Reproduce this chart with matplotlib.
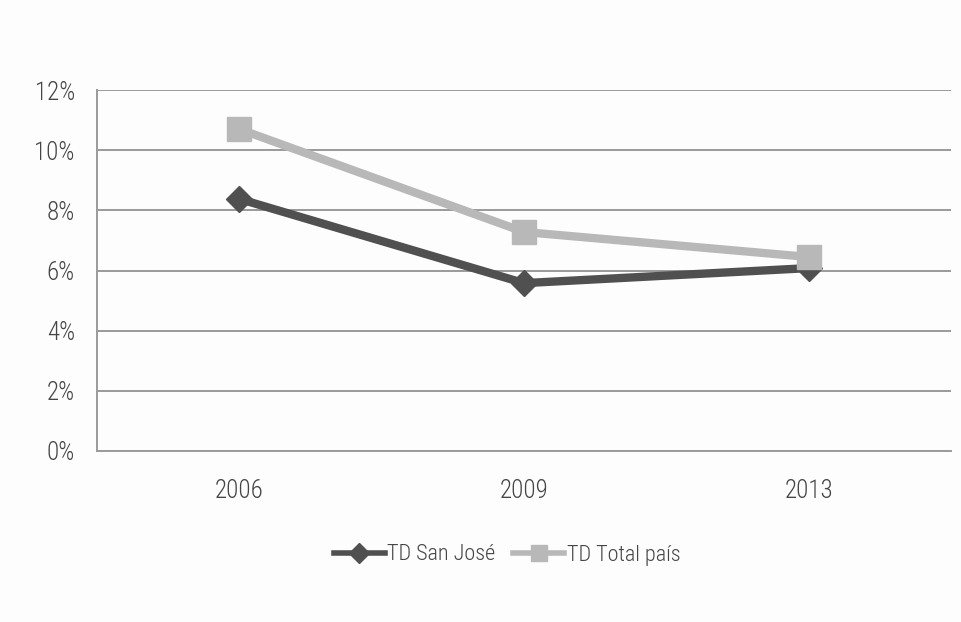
import matplotlib
matplotlib.use("Agg")
import matplotlib.pyplot as plt
from matplotlib import font_manager
from matplotlib.ticker import FuncFormatter

years = ["2006", "2009", "2013"]
td_san_jose = [8.38, 5.58, 6.08]
td_total_pais = [10.7, 7.28, 6.45]
series_labels = ["TD San José", "TD Total país"]
y_ticks = [0, 2, 4, 6, 8, 10, 12]

names = {f.name for f in font_manager.fontManager.ttflist}
cands = ["Roboto Condensed", "Open Sans Condensed", "Liberation Sans Narrow",
         "Noto Sans Condensed", "DejaVu Sans Condensed", "Arial Narrow"]
fam = next((c for c in cands if c in names), None)
condensed = fam is not None
if not condensed:
    fam = "DejaVu Sans"
plt.rcParams["font.family"] = [fam, "DejaVu Sans"]
plt.rcParams["font.weight"] = "light"
fs_tick = 18 if condensed else 14
fs_leg = 16 if condensed else 13.5
txt_color = "#454545"

fig = plt.figure(figsize=(9.61, 6.22), dpi=100, facecolor="#fdfdfd")
W, H = 961, 622
ax = fig.add_axes([97 / W, 1 - 451 / H, (951 - 97) / W, (451 - 90) / H])
ax.set_facecolor("#fdfdfd")

x = list(range(len(years)))
l1, = ax.plot(x, td_san_jose, color="#505050", lw=6, marker="D", markersize=13,
              label=series_labels[0], zorder=3)
l2, = ax.plot(x, td_total_pais, color="#b8b8b8", lw=6, marker="s", markersize=17,
              label=series_labels[1], zorder=4)

ax.set_xlim(-0.5, 2.5)
ax.set_ylim(0, 12)
ax.set_yticks(y_ticks)
ax.yaxis.set_major_formatter(FuncFormatter(lambda v, p: f"{v:.0f}%"))
ax.set_xticks(x)
ax.set_xticklabels(years)
ax.grid(axis="y", color="#9a9a9a", lw=1.4, zorder=0)
ax.set_axisbelow(True)
for s in ["top", "right"]:
    ax.spines[s].set_visible(False)
for s in ["left", "bottom"]:
    ax.spines[s].set_color("#9a9a9a")
    ax.spines[s].set_linewidth(1.4)
ax.tick_params(axis="both", length=0, labelsize=fs_tick, colors=txt_color)
ax.tick_params(axis="y", pad=16)
ax.tick_params(axis="x", pad=20)

leg = fig.legend(handles=[l1, l2], loc="center", bbox_to_anchor=(507 / W, 1 - 555 / H),
                 ncol=2, frameon=False, fontsize=fs_leg, handlelength=2.3, handletextpad=0.1,
                 columnspacing=0.8, labelcolor=txt_color)
for h, ms in zip(leg.legend_handles, [10, 11]):
    h.set_markersize(ms)
    h.set_linewidth(4)

fig.savefig("out.png", dpi=100, facecolor=fig.get_facecolor())
